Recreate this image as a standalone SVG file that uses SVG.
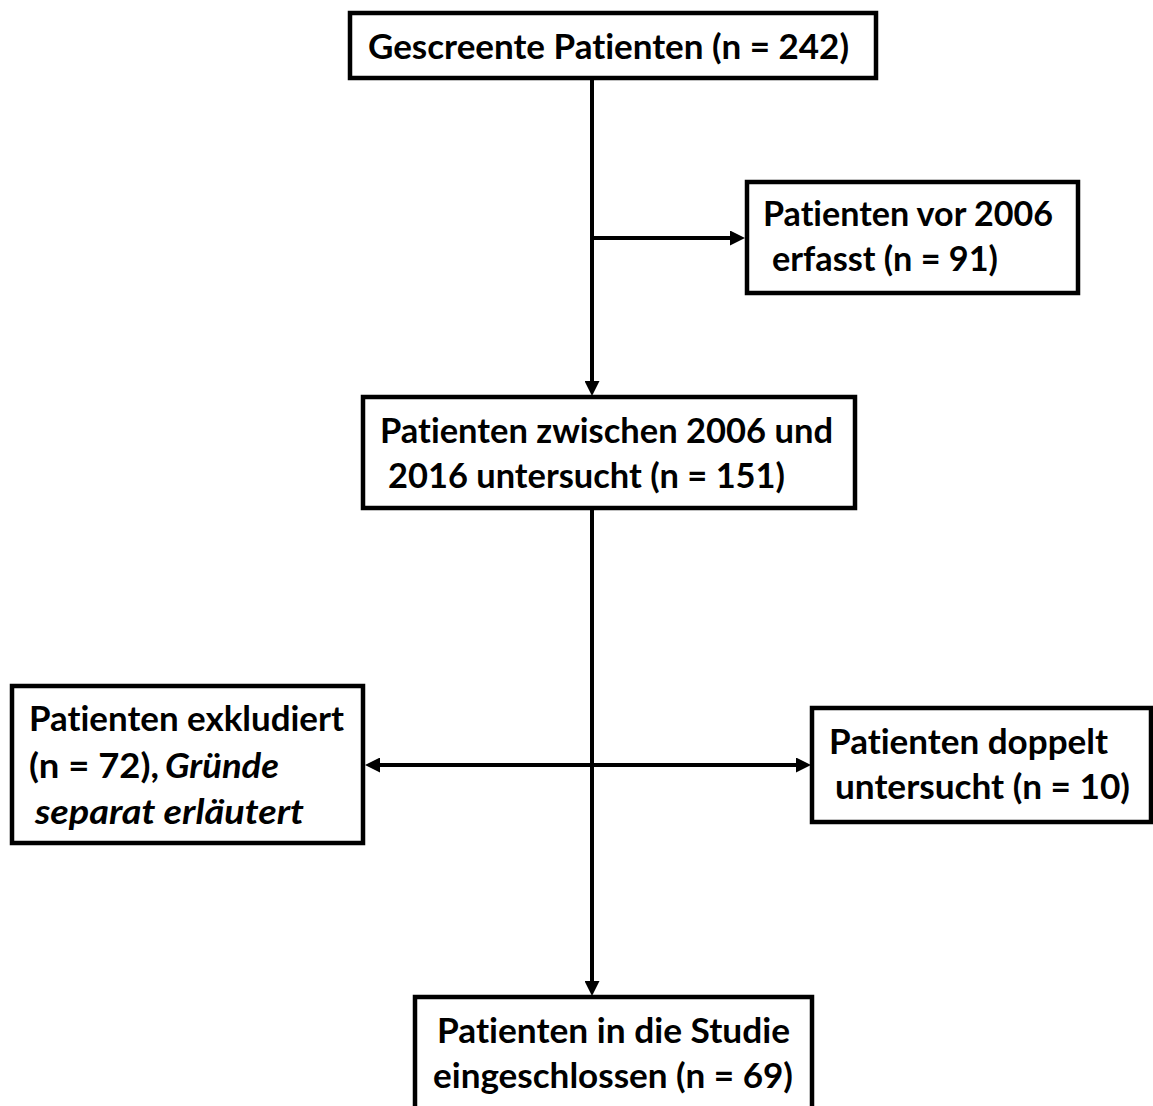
<svg xmlns="http://www.w3.org/2000/svg" width="1153" height="1106" viewBox="0 0 1153 1106">
<style>
.box{fill:#fff;stroke:#000;stroke-width:4.5}
.t{font-family:Lato,"Open Sans","Liberation Sans",sans-serif;font-weight:bold;font-size:35px;fill:#000;font-variant-ligatures:none}
.i{font-style:italic}
.c{fill:none;stroke:#000;stroke-width:4}
</style>
<defs>
<marker id="ah" viewBox="0 0 15 15" refX="11" refY="7.5" markerWidth="15" markerHeight="15" markerUnits="userSpaceOnUse" orient="auto-start-reverse">
<path d="M0,0 L15,7.5 L0,15 z" fill="#000"/>
</marker>
</defs>
<rect width="1153" height="1106" fill="#fff"/>
<g id="connectors">
<path class="c" d="M592,78 L592,392" marker-end="url(#ah)"/>
<path class="c" d="M592,238 L741,238" marker-end="url(#ah)"/>
<path class="c" d="M592,508 L592,992" marker-end="url(#ah)"/>
<path class="c" d="M369,765 L807,765" marker-start="url(#ah)" marker-end="url(#ah)"/>
</g>
<g id="n1">
<rect class="box" x="350" y="13" width="526" height="65"/>
<text class="t" x="368" y="59" textLength="481" lengthAdjust="spacingAndGlyphs">Gescreente Patienten (n = 242)</text>
</g>
<g id="n2">
<rect class="box" x="747" y="182" width="331" height="111"/>
<text class="t" x="763" y="226" textLength="290" lengthAdjust="spacingAndGlyphs">Patienten vor 2006</text>
<text class="t" x="772" y="271" textLength="226" lengthAdjust="spacingAndGlyphs">erfasst (n = 91)</text>
</g>
<g id="n3">
<rect class="box" x="363" y="397" width="492" height="111"/>
<text class="t" x="380" y="443" textLength="453" lengthAdjust="spacingAndGlyphs">Patienten zwischen 2006 und</text>
<text class="t" x="388" y="488" textLength="397" lengthAdjust="spacingAndGlyphs">2016 untersucht (n = 151)</text>
</g>
<g id="n4">
<rect class="box" x="12" y="686" width="351" height="157"/>
<text class="t" x="29" y="731" textLength="315" lengthAdjust="spacingAndGlyphs">Patienten exkludiert</text>
<text class="t" x="29" y="778" textLength="130" lengthAdjust="spacingAndGlyphs">(n = 72),</text>
<text class="t i" x="165" y="778" textLength="114" lengthAdjust="spacingAndGlyphs">Gründe</text>
<text class="t i" x="35" y="824" textLength="269" lengthAdjust="spacingAndGlyphs">separat erläutert</text>
</g>
<g id="n5">
<rect class="box" x="812" y="708" width="339" height="114"/>
<text class="t" x="829" y="754" textLength="279" lengthAdjust="spacingAndGlyphs">Patienten doppelt</text>
<text class="t" x="835" y="799" textLength="295" lengthAdjust="spacingAndGlyphs">untersucht (n = 10)</text>
</g>
<g id="n6">
<rect class="box" x="415" y="997" width="397" height="120"/>
<text class="t" x="437" y="1043" textLength="353" lengthAdjust="spacingAndGlyphs">Patienten in die Studie</text>
<text class="t" x="433" y="1088" textLength="360" lengthAdjust="spacingAndGlyphs">eingeschlossen (n = 69)</text>
</g>
</svg>
